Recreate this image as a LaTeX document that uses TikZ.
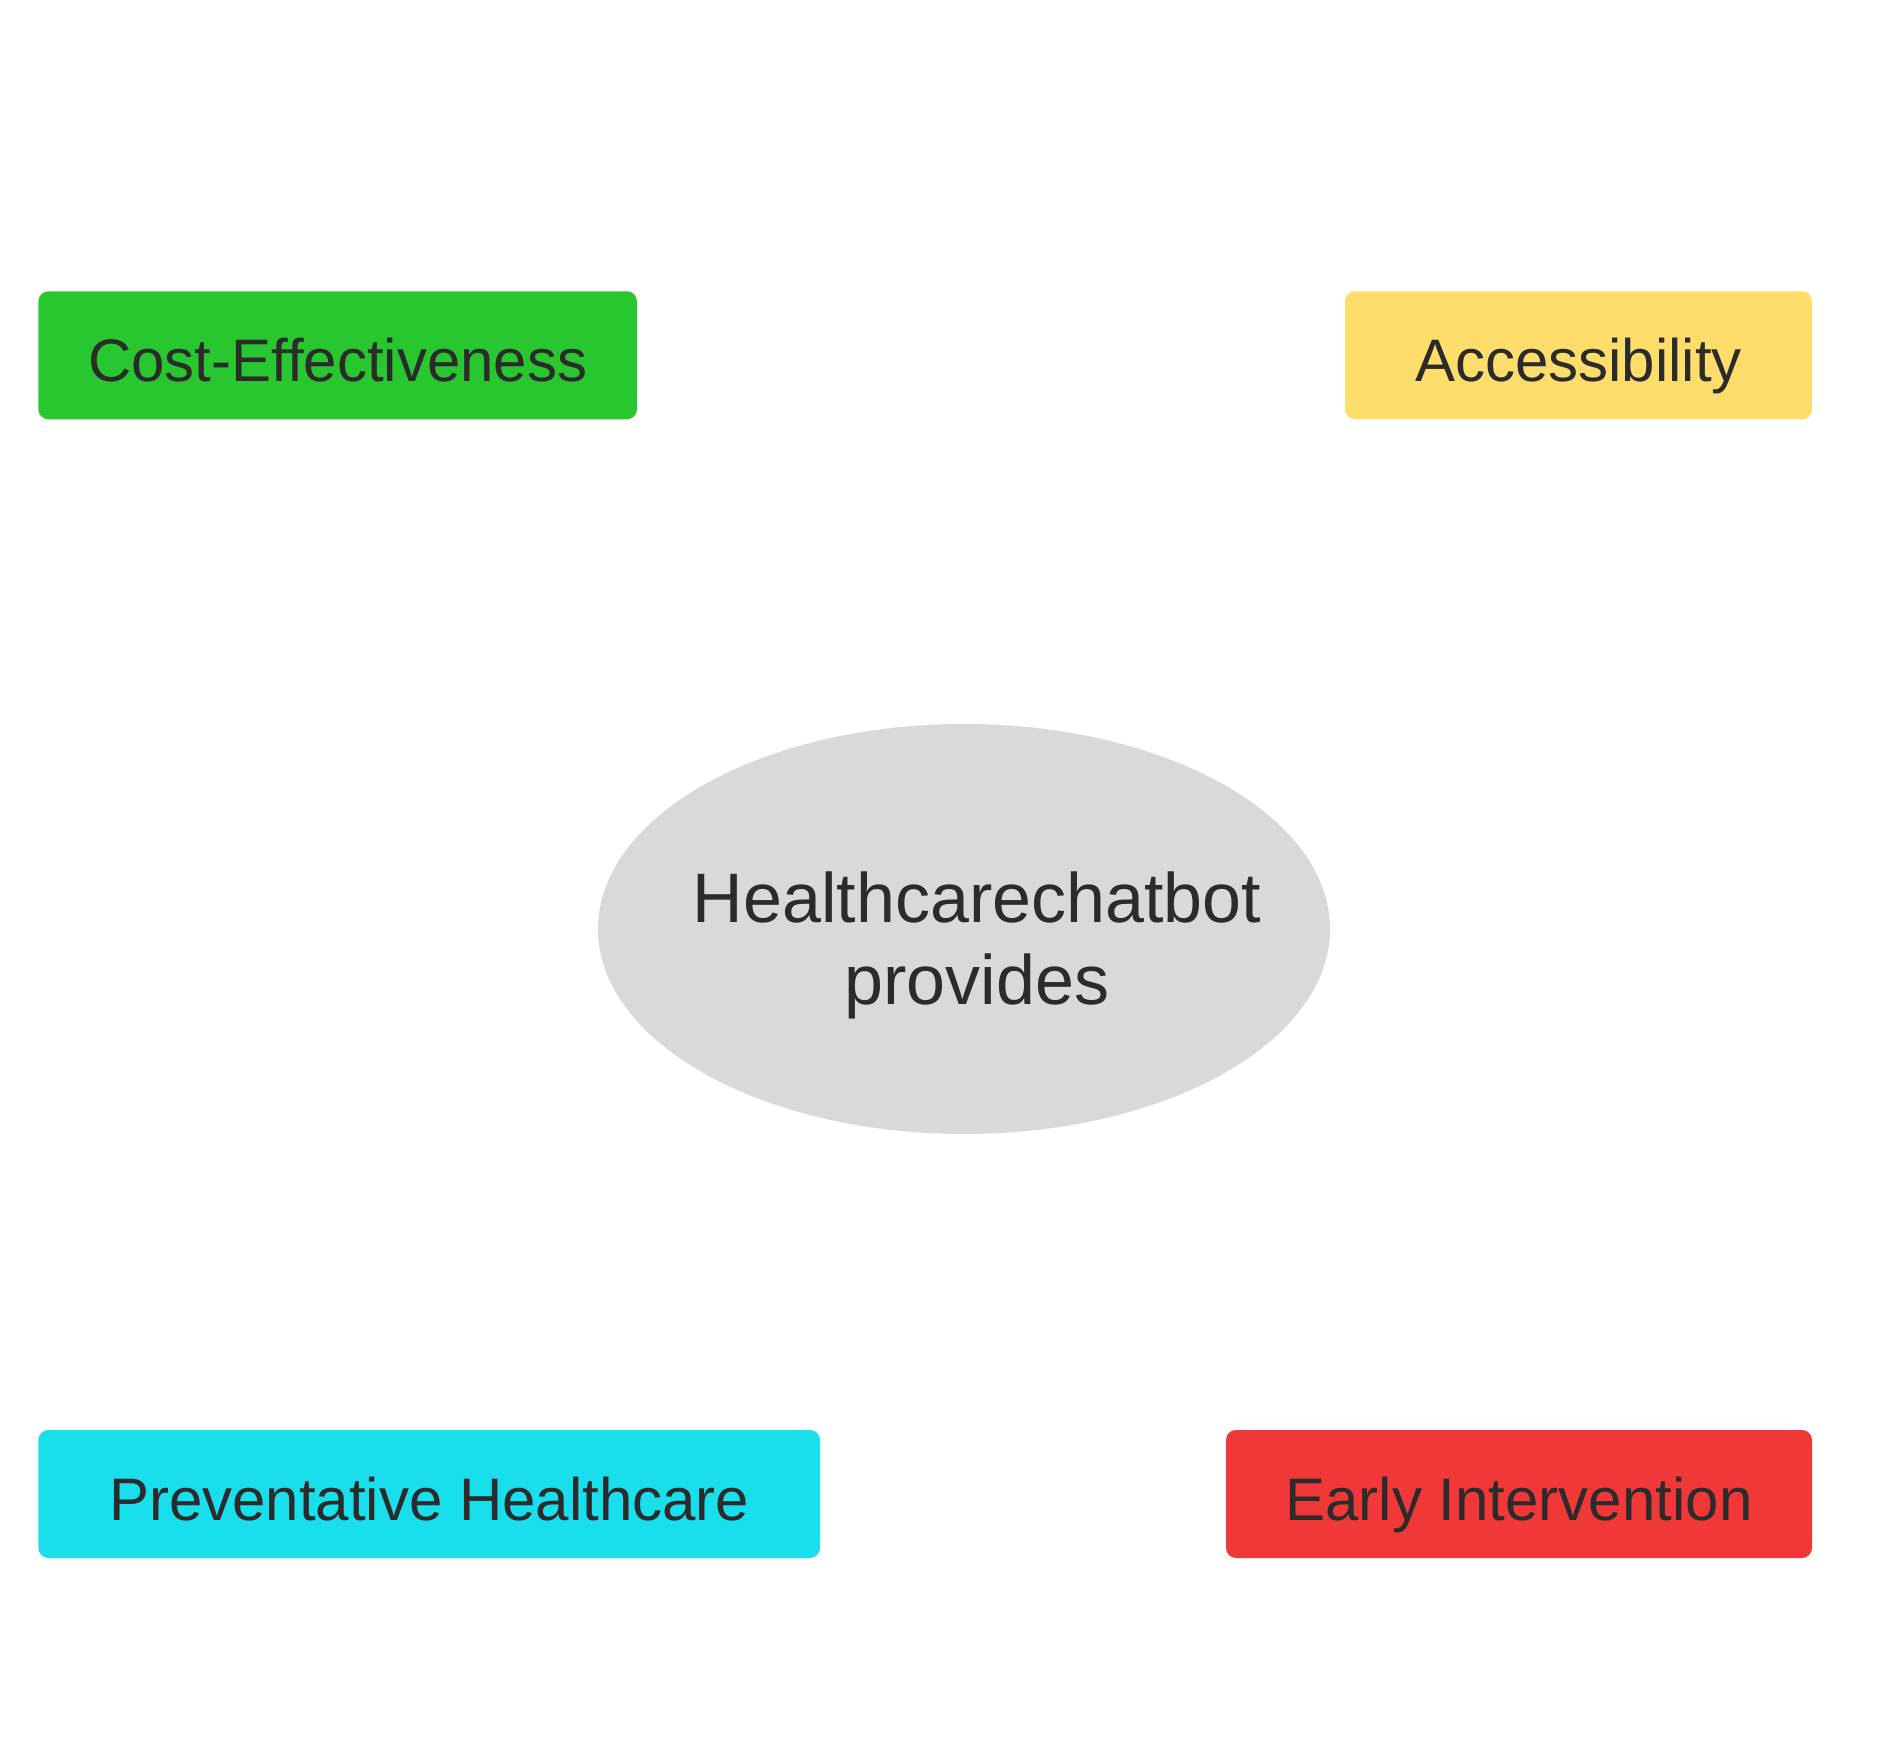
\documentclass[tikz,border=0pt]{standalone}
\usepackage{fontspec}
\setmainfont{Liberation Sans}
\usetikzlibrary{shapes.geometric}
\definecolor{costgreen}{HTML}{28C62F}
\definecolor{accessyellow}{HTML}{FEDD6B}
\definecolor{preventcyan}{HTML}{19DEEB}
\definecolor{earlyred}{HTML}{F13838}
\definecolor{hubgray}{HTML}{D9D9D9}
\definecolor{inkgray}{HTML}{2B2B2B}
\begin{document}
\begin{tikzpicture}[x=0.5pt,y=-0.5pt,
	benefit/.style={rectangle,rounded corners=5pt,minimum height=64pt,inner sep=0pt,text=inkgray,
		font=\fontsize{30}{36}\selectfont,text height=28.5pt,text depth=1.8pt},
	hub/.style={ellipse,fill=hubgray,minimum width=366pt,minimum height=205pt,inner sep=0pt},
	hublabel/.style={align=center,inner sep=0pt,text=inkgray,font=\fontsize{35}{41}\selectfont}]
		\useasboundingbox (0,0) rectangle (1880,1764);
		% centre
		\node[hub] (chatbot) at (964,929) {};
		\node[hublabel] (chatbottext) at ([xshift=6.5pt,yshift=-8pt]chatbot.center) {Healthcarechatbot\\provides};
		% benefits
		\node[benefit,fill=costgreen,minimum width=299.3pt] (cost) at (337.7,355.3) {Cost-Effectiveness};
		\node[benefit,fill=accessyellow,minimum width=233.5pt] (access) at (1578.5,355.3) {Accessibility};
		\node[benefit,fill=preventcyan,minimum width=390.8pt] (prevent) at (429.2,1494) {Preventative Healthcare};
		\node[benefit,fill=earlyred,minimum width=293pt] (early) at (1519,1494) {Early Intervention};
	    \end{tikzpicture}
\end{document}
